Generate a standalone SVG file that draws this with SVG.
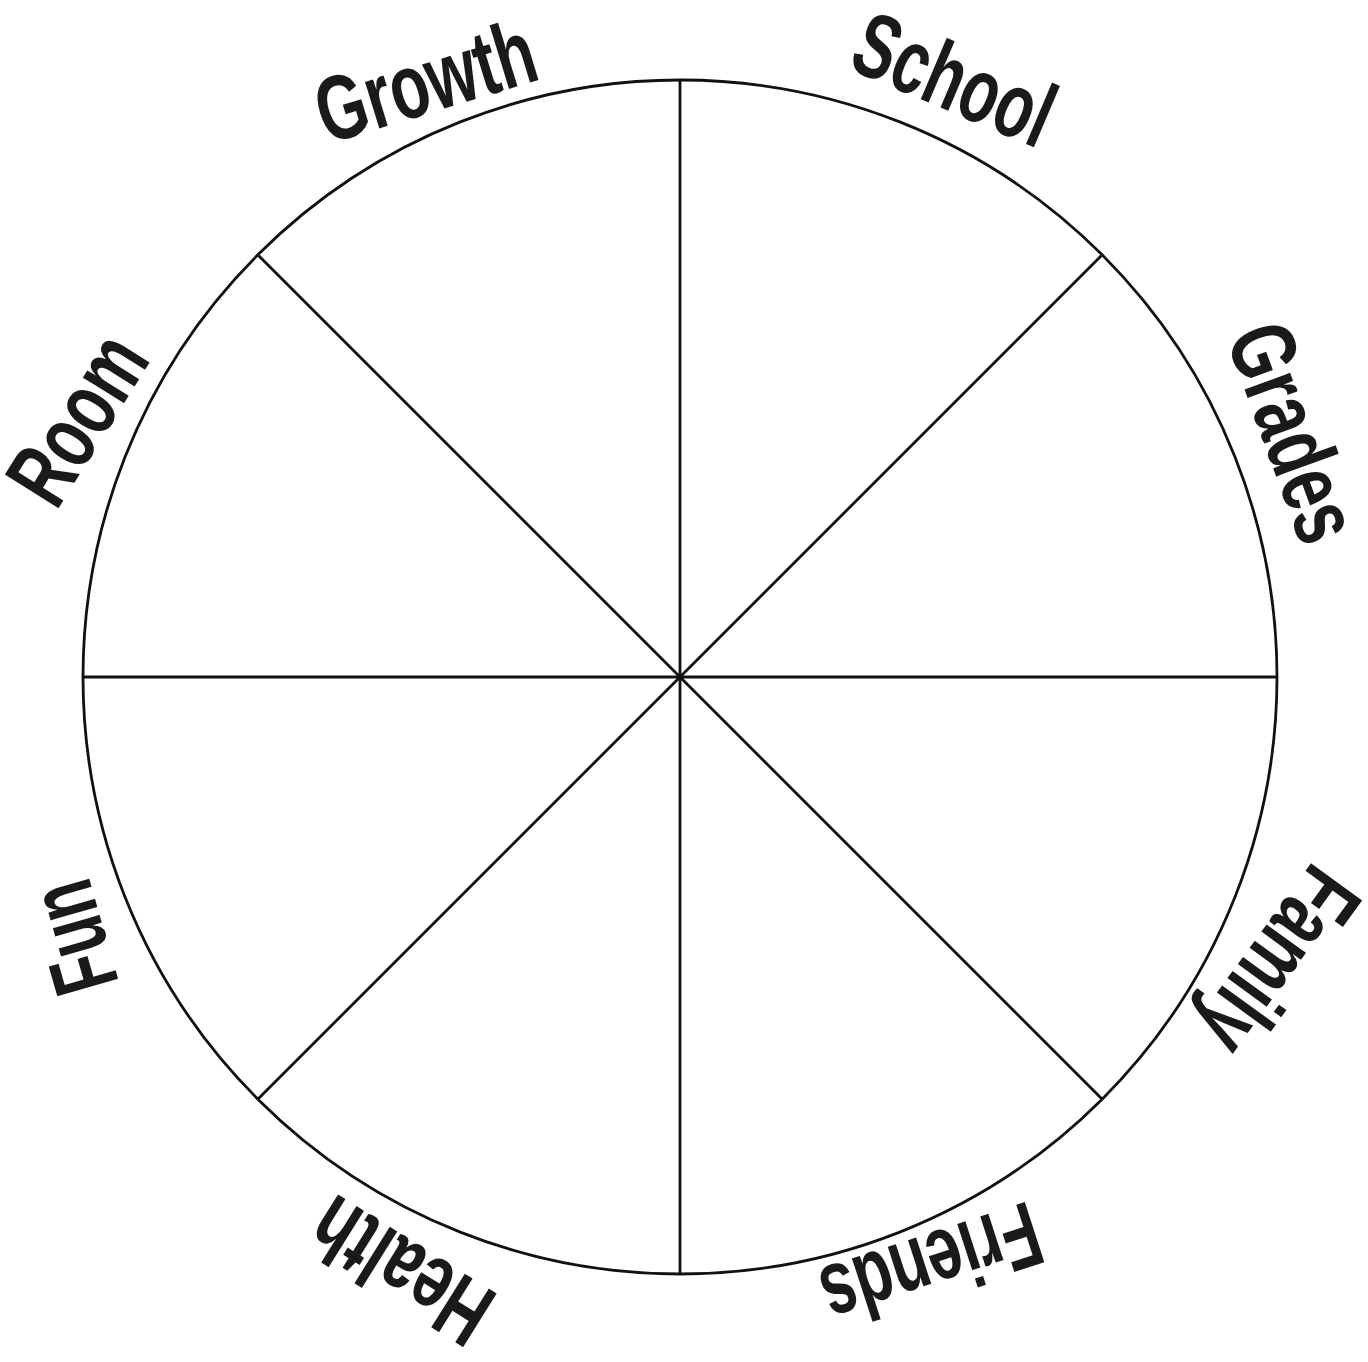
<svg xmlns="http://www.w3.org/2000/svg" width="1368" height="1362" viewBox="0 0 1368 1362">
<style>
.lbl{font-family:"Liberation Sans Narrow","Liberation Sans","DejaVu Sans Condensed",sans-serif;font-size:92px;font-weight:bold;fill:#1a1a1a;text-anchor:middle}
.ln{stroke:#111;stroke-width:2.8;fill:none}
</style>
<rect width="1368" height="1362" fill="#fff"/>
<g id="wheel">
<circle class="ln" cx="680" cy="677" r="597"/>
</g>
<g id="connectors">
<line class="ln" x1="680" y1="80" x2="680" y2="1274"/>
<line class="ln" x1="83" y1="677" x2="1277" y2="677"/>
<line class="ln" x1="258" y1="255" x2="1102" y2="1099"/>
<line class="ln" x1="1102" y1="255" x2="258" y2="1099"/>
</g>
<g id="growth"><text class="lbl" transform="translate(425,80) rotate(-17)" y="33" textLength="225" lengthAdjust="spacingAndGlyphs">Growth</text></g>
<g id="school"><text class="lbl" transform="translate(955,78) rotate(23)" y="33" textLength="208" lengthAdjust="spacingAndGlyphs">School</text></g>
<g id="grades"><text class="lbl" transform="translate(1295,432) rotate(70)" y="33" textLength="225" lengthAdjust="spacingAndGlyphs">Grades</text></g>
<g id="family"><text class="lbl" transform="translate(1280,962) rotate(126)" y="33" textLength="205" lengthAdjust="spacingAndGlyphs">Family</text></g>
<g id="friends"><text class="lbl" transform="translate(932,1267) rotate(162)" y="33" textLength="225" lengthAdjust="spacingAndGlyphs">Friends</text></g>
<g id="health"><text class="lbl" transform="translate(400,1272) rotate(-148)" y="33" textLength="195" lengthAdjust="spacingAndGlyphs">Health</text></g>
<g id="fun"><text class="lbl" transform="translate(72,938) rotate(-106)" y="33" textLength="112" lengthAdjust="spacingAndGlyphs">Fun</text></g>
<g id="room"><text class="lbl" transform="translate(76,418) rotate(-58)" y="33" textLength="180" lengthAdjust="spacingAndGlyphs">Room</text></g>
</svg>
